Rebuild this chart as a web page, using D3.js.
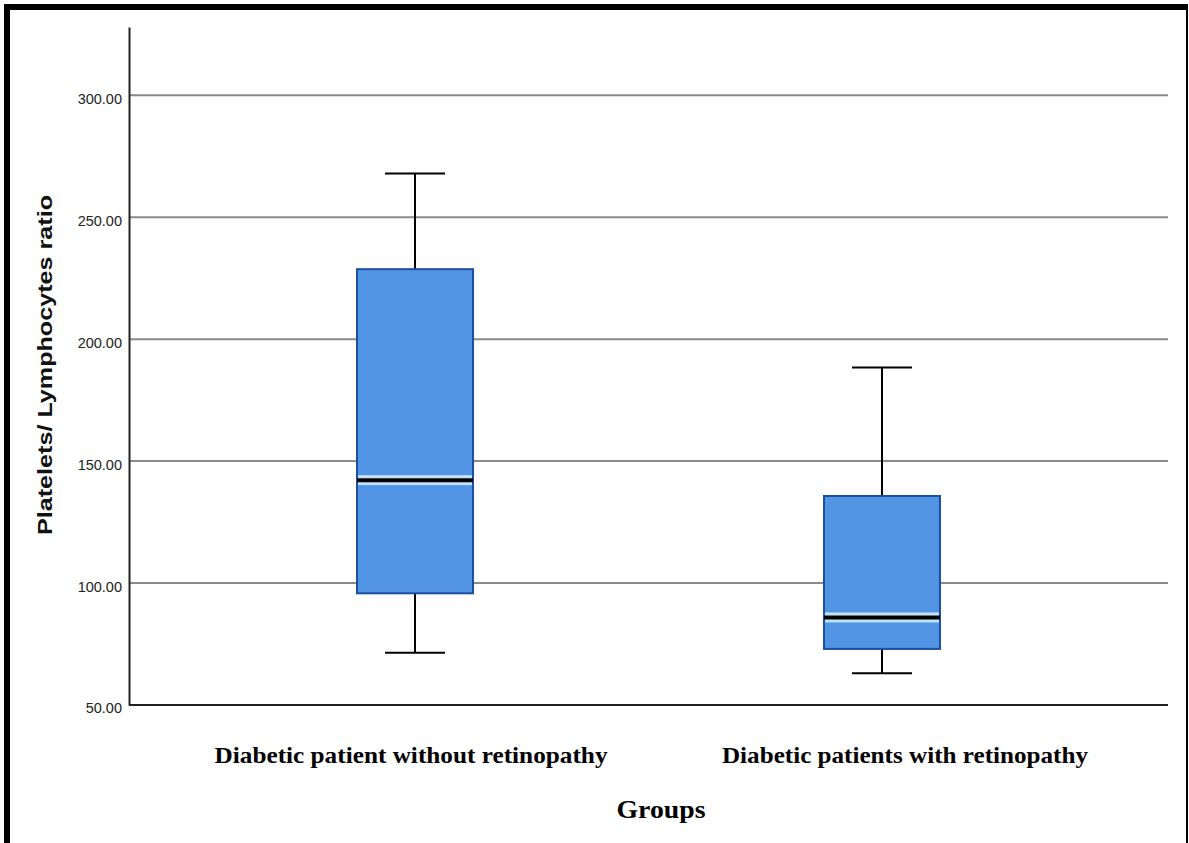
<!DOCTYPE html>
<html>
<head>
<meta charset="utf-8">
<script src="https://cdn.jsdelivr.net/npm/d3@7"></script>
<style>
  html, body { margin: 0; padding: 0; background: #fff; }
  svg { display: block; }
</style>
</head>
<body>
<svg id="chart" width="1189" height="843"></svg>
<script>
// ---- data ----
const categories = ["Diabetic patient without retinopathy", "Diabetic patients with retinopathy"];
const whiskerLow  = [71.4, 63.0];
const q1Values    = [95.8, 73.0];
const medians     = [142.2, 85.9];
const q3Values    = [228.7, 135.7];
const whiskerHigh = [267.9, 188.4];
const yTicks      = [50, 100, 150, 200, 250, 300];
const yDomain     = [50, 328];
const yLabel      = "Platelets/ Lymphocytes ratio";
const xLabel      = "Groups";

(function () {
const boxes = categories.map((c, i) => ({
  cat: c, lo: whiskerLow[i], q1: q1Values[i], med: medians[i], q3: q3Values[i], hi: whiskerHigh[i]
}));

const svg = d3.select("#chart");
const W = 1189, H = 843;
const pLeft = 129, pRight = 1168, pTop = 27, pBottom = 705;

// frame
svg.append("rect").attr("x", 0).attr("y", 0).attr("width", W).attr("height", H).attr("fill", "#fff");
svg.append("rect").attr("x", 4).attr("y", 4).attr("width", 1184).attr("height", 6).attr("fill", "#000");
svg.append("rect").attr("x", 4).attr("y", 4).attr("width", 6).attr("height", H - 4).attr("fill", "#000");
svg.append("rect").attr("x", 1186).attr("y", 4).attr("width", 2).attr("height", H - 4).attr("fill", "#000");

const y = d3.scaleLinear().domain(yDomain).range([pBottom, pTop]);
const x = d3.scalePoint().domain(categories).range([pLeft, pRight]).padding(0.6125);

// gridlines
svg.append("g").selectAll("line").data(yTicks.filter(t => t > yDomain[0])).join("line")
  .attr("x1", pLeft).attr("x2", pRight)
  .attr("y1", d => y(d)).attr("y2", d => y(d))
  .attr("stroke", "#8a8a8a").attr("stroke-width", 2);

// y axis
const yAxis = d3.axisLeft(y).tickValues(yTicks).tickFormat(d3.format(".2f")).tickSize(0).tickPadding(7);
const gy = svg.append("g").attr("transform", `translate(${pLeft},0)`).call(yAxis);
gy.select(".domain").attr("stroke", "#222").attr("stroke-width", 2);
gy.selectAll("text").attr("font-family", "'Liberation Sans', Arial, sans-serif")
  .attr("font-size", 14.5).attr("fill", "#222").attr("dy", "0.55em");

// x axis line
const xAxis = d3.axisBottom(x).tickSize(0).tickFormat("");
const gx = svg.append("g").attr("transform", `translate(0,${pBottom})`).call(xAxis);
gx.select(".domain").attr("d", `M${pLeft},0H${pRight}`).attr("stroke", "#222").attr("stroke-width", 2);

// boxes
const boxW = 116, capW = 60;
const g = svg.append("g");
const bg = g.selectAll("g.box").data(boxes).join("g").attr("class", "box");

// whiskers
bg.append("line")
  .attr("x1", d => x(d.cat)).attr("x2", d => x(d.cat))
  .attr("y1", d => y(d.hi)).attr("y2", d => y(d.q3))
  .attr("stroke", "#000").attr("stroke-width", 2);
bg.append("line")
  .attr("x1", d => x(d.cat)).attr("x2", d => x(d.cat))
  .attr("y1", d => y(d.q1)).attr("y2", d => y(d.lo))
  .attr("stroke", "#000").attr("stroke-width", 2);
bg.append("line")
  .attr("x1", d => x(d.cat) - capW / 2).attr("x2", d => x(d.cat) + capW / 2)
  .attr("y1", d => y(d.hi)).attr("y2", d => y(d.hi))
  .attr("stroke", "#000").attr("stroke-width", 2);
bg.append("line")
  .attr("x1", d => x(d.cat) - capW / 2).attr("x2", d => x(d.cat) + capW / 2)
  .attr("y1", d => y(d.lo)).attr("y2", d => y(d.lo))
  .attr("stroke", "#000").attr("stroke-width", 2);

// box rect
bg.append("rect")
  .attr("x", d => x(d.cat) - boxW / 2).attr("width", boxW)
  .attr("y", d => y(d.q3)).attr("height", d => y(d.q1) - y(d.q3))
  .attr("fill", "#5295e4").attr("stroke", "#1c4f9e").attr("stroke-width", 2);

// highlight around median
bg.append("rect")
  .attr("x", d => x(d.cat) - boxW / 2 + 1).attr("width", boxW - 2)
  .attr("y", d => y(d.med) - 5).attr("height", 10)
  .attr("fill", "#bfe3ff");
bg.append("rect")
  .attr("x", d => x(d.cat) - boxW / 2 + 1).attr("width", boxW - 2)
  .attr("y", d => y(d.med) - 2).attr("height", 2)
  .attr("fill", "#e8f6ff");
// median line
bg.append("line")
  .attr("x1", d => x(d.cat) - boxW / 2).attr("x2", d => x(d.cat) + boxW / 2)
  .attr("y1", d => y(d.med)).attr("y2", d => y(d.med))
  .attr("stroke", "#000").attr("stroke-width", 4);

// category labels
svg.append("g").selectAll("text").data(categories).join("text")
  .attr("x", (d, i) => x(d) + (i === 0 ? -4 : 23))
  .attr("y", 763)
  .attr("text-anchor", "middle")
  .attr("font-family", "'Liberation Serif', 'Times New Roman', serif")
  .attr("font-weight", "bold").attr("font-size", 24)
  .attr("textLength", (d, i) => i === 0 ? 393 : 366)
  .attr("lengthAdjust", "spacingAndGlyphs")
  .attr("fill", "#000")
  .text(d => d);

// x title
svg.append("text")
  .attr("x", 661).attr("y", 818)
  .attr("text-anchor", "middle")
  .attr("font-family", "'Liberation Serif', 'Times New Roman', serif")
  .attr("font-weight", "bold").attr("font-size", 25)
  .attr("textLength", 89).attr("lengthAdjust", "spacingAndGlyphs")
  .text(xLabel);

// y title
svg.append("text")
  .attr("transform", `translate(52,365) rotate(-90)`)
  .attr("text-anchor", "middle")
  .attr("font-family", "'Liberation Sans', Arial, sans-serif")
  .attr("font-weight", "bold").attr("font-size", 20)
  .attr("textLength", 340).attr("lengthAdjust", "spacingAndGlyphs")
  .attr("fill", "#111")
  .text(yLabel);
})();
</script>
</body>
</html>
